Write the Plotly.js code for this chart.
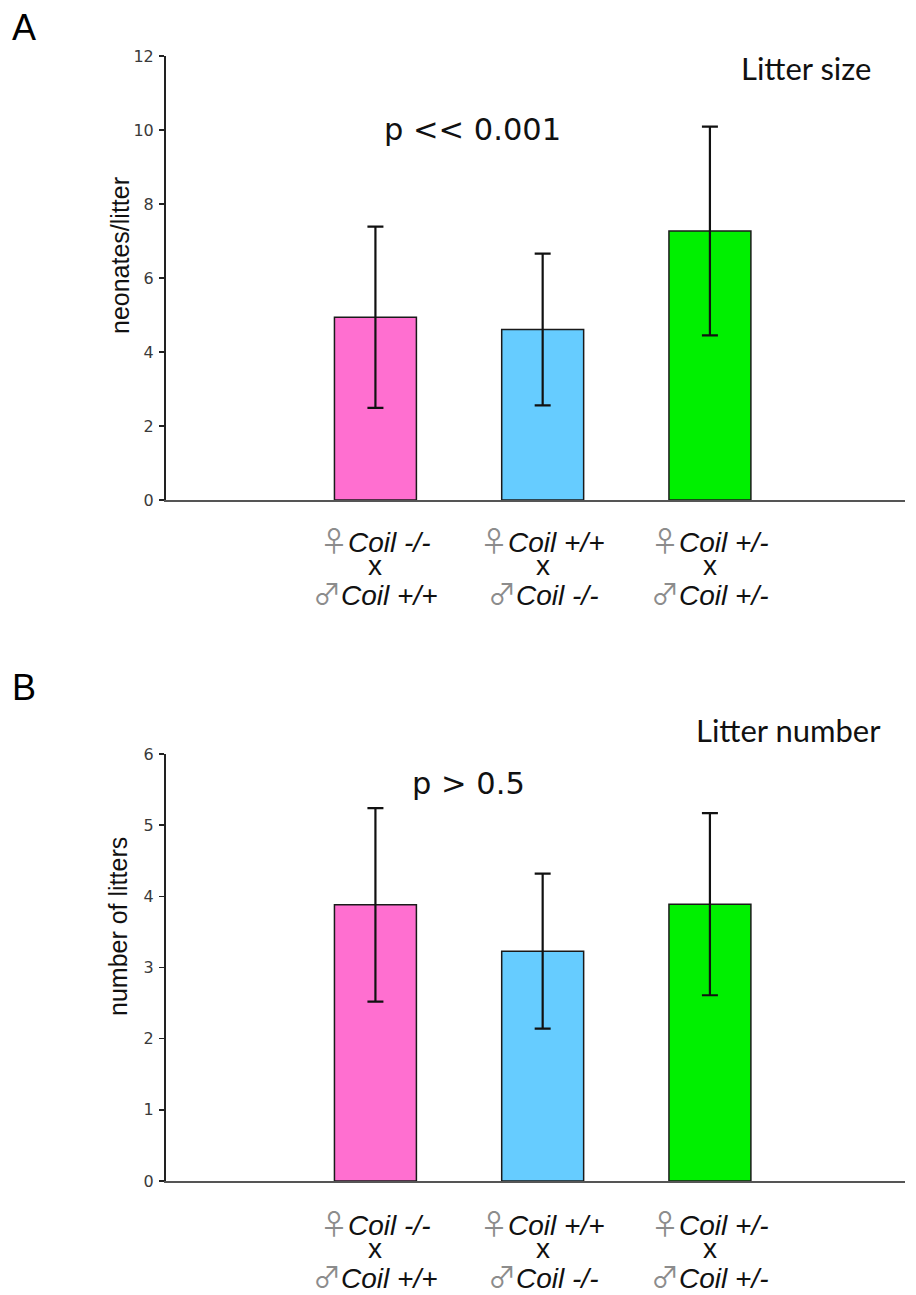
<!DOCTYPE html>
<html>
<head>
<meta charset="utf-8">
<script src="https://cdn.plot.ly/plotly-3.0.1.min.js"></script>
<style>html,body{margin:0;padding:0;background:#fff}</style>
</head>
<body>
<div id="chart" style="width:916px;height:1295px"></div>
<script>
// ---- data ----
const categories = ['Coil -/- x Coil +/+', 'Coil +/+ x Coil -/-', 'Coil +/- x Coil +/-'];
const femaleGenotype = ['-/-', '+/+', '+/-'];
const maleGenotype = ['+/+', '-/-', '+/-'];
const barColors = ['#ff6fd0', '#66ccff', '#00f000'];

const litterSize = [4.94, 4.61, 7.27];
const litterSizeErr = [2.45, 2.05, 2.82];

const litterNumber = [3.88, 3.23, 3.89];
const litterNumberErr = [1.36, 1.09, 1.28];

const yTicksA = [0, 2, 4, 6, 8, 10, 12];
const yTicksB = [0, 1, 2, 3, 4, 5, 6];

// ---- layout helpers (pixel -> paper) ----
const W = 916, H = 1295;
const mL = 166, mR = 11, mT = 56, mB = 114;
const pw = W - mL - mR, ph = H - mT - mB;
const px = x => (x - mL) / pw;
const py = y => (H - mB - y) / ph;

function barTrace(vals, errs, xa, ya) {
  return {
    type: 'bar', x: categories, y: vals, xaxis: xa, yaxis: ya,
    width: 0.49,
    marker: { color: barColors, line: { color: '#1a1a1a', width: 1.5 } },
    error_y: { type: 'data', array: errs, visible: true, color: '#111', thickness: 2.2, width: 8 },
    hoverinfo: 'none', showlegend: false
  };
}

const data = [
  barTrace(litterSize, litterSizeErr, 'x', 'y'),
  barTrace(litterNumber, litterNumberErr, 'x2', 'y2')
];

const xRange = [-1.2522, 3.1664];
const xBase = { range: xRange, showticklabels: false, ticks: '', showline: true, linecolor: '#555', linewidth: 2, showgrid: false, zeroline: false, fixedrange: true };
const yBase = { ticks: 'outside', ticklen: 5, tickwidth: 1.5, tickcolor: '#222', showline: true, linecolor: '#222', linewidth: 2, showgrid: false, zeroline: false, fixedrange: true, ticklabelstandoff: 2,
  tickfont: { family: 'DejaVu Sans', size: 16, color: '#3a3a3a' } };

const ann = [];
function txt(text, x, y, opts) {
  ann.push(Object.assign({ text: text, x: px(x), y: py(y), xref: 'paper', yref: 'paper', showarrow: false, xanchor: 'center', yanchor: 'middle' }, opts || {}));
}
// panel letters
txt('A', 24, 28, { font: { family: 'Liberation Sans', size: 36, color: '#000' } });
txt('B', 24, 687, { font: { family: 'Liberation Sans', size: 36, color: '#000' } });
// panel titles
txt('Litter size', 806, 68, { font: { family: 'Lato', size: 31, color: '#111' } });
txt('Litter number', 788, 730, { font: { family: 'Lato', size: 31, color: '#111' } });
// p-values
txt('p << 0.001', 472, 129, { font: { family: 'DejaVu Sans', size: 30.5, color: '#111' } });
txt('p > 0.5', 468, 783, { font: { family: 'DejaVu Sans', size: 30.5, color: '#111' } });
// y titles
txt('neonates/litter', 120, 256, { textangle: -90, font: { family: 'Liberation Sans', size: 25, color: '#111' } });
txt('number of litters', 118, 927, { textangle: -90, font: { family: 'Liberation Sans', size: 25, color: '#111' } });

// category labels (three lines each)
function catLabels(xref, yLines) {
  const f = { family: 'Liberation Sans', size: 28, color: '#111' };
  const sym = s => '<span style="color:#8c8c8c;font-family:\'Noto Sans CJK JP\';font-size:28px">' + s + '</span>';
  categories.forEach((c, i) => {
    ann.push({ text: sym('♀') + '<i>Coil ' + femaleGenotype[i] + '</i>', x: c, xref: xref, y: py(yLines[0]), yref: 'paper', showarrow: false, xanchor: 'center', yanchor: 'middle', font: f });
    ann.push({ text: 'x', x: c, xref: xref, y: py(yLines[1]), yref: 'paper', showarrow: false, xanchor: 'center', yanchor: 'middle', font: f });
    ann.push({ text: sym('♂') + '<i>Coil ' + maleGenotype[i] + '</i>', x: c, xref: xref, y: py(yLines[2]), yref: 'paper', showarrow: false, xanchor: 'center', yanchor: 'middle', font: f });
  });
}
catLabels('x', [540, 565, 593]);
catLabels('x2', [1223, 1248, 1276]);

const layout = {
  width: W, height: H,
  margin: { l: mL, r: mR, t: mT, b: mB },
  paper_bgcolor: '#fff', plot_bgcolor: '#fff',
  showlegend: false,
  bargap: 0.5,
  xaxis: Object.assign({}, xBase, { domain: [0, 1], anchor: 'y' }),
  yaxis: Object.assign({}, yBase, { domain: [py(500), 1], range: [0, 12], tickvals: yTicksA, anchor: 'x' }),
  xaxis2: Object.assign({}, xBase, { domain: [0, 1], anchor: 'y2' }),
  yaxis2: Object.assign({}, yBase, { domain: [0, py(754)], range: [0, 6], tickvals: yTicksB, anchor: 'x2' }),
  annotations: ann
};

Plotly.newPlot('chart', data, layout, { staticPlot: true, displayModeBar: false });
</script>
</body>
</html>
